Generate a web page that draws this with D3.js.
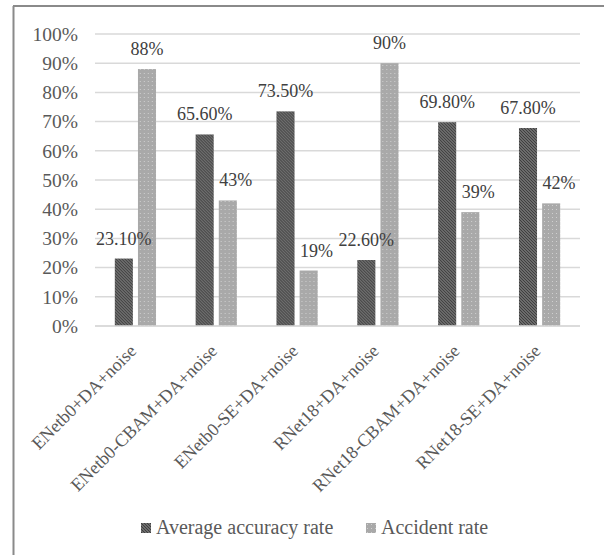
<!DOCTYPE html>
<html>
<head>
<meta charset="utf-8">
<script src="https://cdn.jsdelivr.net/npm/d3@7"></script>
<style>
  html, body { margin: 0; padding: 0; background: #fff; }
  svg { display: block; }
  text { font-family: "Liberation Serif", "Times New Roman", serif; }
</style>
</head>
<body>
<svg id="chart" width="604" height="555"></svg>
<script>
// Model variants compared
const categories = [
  "ENetb0+DA+noise",
  "ENetb0-CBAM+DA+noise",
  "ENetb0-SE+DA+noise",
  "RNet18+DA+noise",
  "RNet18-CBAM+DA+noise",
  "RNet18-SE+DA+noise"
];
const seriesNames = ["Average accuracy rate", "Accident rate"];
const accuracyValues = [0.231, 0.656, 0.735, 0.226, 0.698, 0.678];
const accidentValues = [0.88, 0.43, 0.19, 0.90, 0.39, 0.42];
const accuracyLabels = ["23.10%", "65.60%", "73.50%", "22.60%", "69.80%", "67.80%"];
const accidentLabels = ["88%", "43%", "19%", "90%", "39%", "42%"];
const yTicks = [0, 0.1, 0.2, 0.3, 0.4, 0.5, 0.6, 0.7, 0.8, 0.9, 1.0];

const rows = categories.map((c, i) => ({
  cat: c,
  vals: [
    { s: seriesNames[0], v: accuracyValues[i], label: accuracyLabels[i], other: accidentValues[i] },
    { s: seriesNames[1], v: accidentValues[i], label: accidentLabels[i], other: accuracyValues[i] }
  ]
}));

const svg = d3.select("#chart");
const textColor = "#595959";
const serif = "Liberation Serif, Times New Roman, serif";

// Fill patterns: dark cross-hatch and dotted light grey
const defs = svg.append("defs");
const pDark = defs.append("pattern").attr("id", "patDark")
  .attr("patternUnits", "userSpaceOnUse").attr("width", 3).attr("height", 3);
pDark.append("rect").attr("width", 3).attr("height", 3).attr("fill", "#808080");
pDark.append("path").attr("d", "M0,0 L3,3 M-1,2 L1,4 M2,-1 L4,1")
  .attr("stroke", "#3a3a3a").attr("stroke-width", 1.1);
const pLight = defs.append("pattern").attr("id", "patLight")
  .attr("patternUnits", "userSpaceOnUse").attr("width", 4).attr("height", 4);
pLight.append("rect").attr("width", 4).attr("height", 4).attr("fill", "#a9a9a9");
pLight.append("rect").attr("x", 1).attr("y", 1).attr("width", 1).attr("height", 1).attr("fill", "#d0d0d0");
const fills = { [seriesNames[0]]: "url(#patDark)", [seriesNames[1]]: "url(#patLight)" };

// Outer frame
svg.append("line").attr("x1", 13.5).attr("y1", 6).attr("x2", 13.5).attr("y2", 555)
  .attr("stroke", "#8a8a8a").attr("stroke-width", 2);
svg.append("line").attr("x1", 13).attr("y1", 6).attr("x2", 604).attr("y2", 6)
  .attr("stroke", "#8a8a8a").attr("stroke-width", 2);

const x0 = d3.scaleBand().domain(categories).range([95, 580]).paddingInner(0.49).paddingOuter(0.245);
const x1 = d3.scaleBand().domain(seriesNames).range([0, x0.bandwidth()]).paddingInner(0.22);
const y = d3.scaleLinear().domain([0, 1]).range([326, 34]);

// Gridlines
svg.append("g").selectAll("line").data(yTicks).join("line")
  .attr("x1", 95).attr("x2", 580)
  .attr("y1", d => y(d)).attr("y2", d => y(d))
  .attr("stroke", "#d9d9d9").attr("stroke-width", 1.5);

// Y axis labels
const yAxis = d3.axisLeft(y).tickValues(yTicks).tickFormat(d3.format(".0%")).tickSize(0).tickPadding(0);
const gy = svg.append("g").attr("transform", "translate(78,0)").call(yAxis);
gy.select(".domain").remove();
gy.selectAll("text").attr("font-size", 19.5).attr("fill", textColor).attr("font-family", serif);

// Bars
const groups = svg.append("g").selectAll("g").data(rows).join("g")
  .attr("transform", d => `translate(${x0(d.cat)},0)`);
groups.selectAll("rect").data(d => d.vals).join("rect")
  .attr("x", d => x1(d.s)).attr("width", x1.bandwidth())
  .attr("y", d => y(d.v)).attr("height", d => y(0) - y(d.v))
  .attr("fill", d => fills[d.s]);

// Value labels above each bar; a right-hand label is nudged clear of a taller left neighbour
const labels = groups.selectAll("text").data(d => d.vals).join("text")
  .attr("y", d => y(d.v) - 14)
  .attr("text-anchor", "start")
  .attr("font-size", 18).attr("fill", "#404040")
  .text(d => d.label);
labels.each(function (d) {
  const w = this.getComputedTextLength();
  const cx = x1(d.s) + x1.bandwidth() / 2;
  let left = cx - w / 2;
  if (d.s === seriesNames[1] && d.other > d.v) {
    left = Math.max(left, x1(seriesNames[0]) + x1.bandwidth() + 5.5);
  }
  d3.select(this).attr("x", left);
});

// Baseline
svg.append("line").attr("x1", 95).attr("x2", 580).attr("y1", y(0)).attr("y2", y(0))
  .attr("stroke", "#d9d9d9").attr("stroke-width", 1.5);

// Category labels, rotated
const xAxis = d3.axisBottom(x0).tickSize(0).tickPadding(0);
const gx = svg.append("g").attr("transform", `translate(0,${y(0)})`).call(xAxis);
gx.select(".domain").remove();
gx.selectAll("text")
  .attr("font-size", 18).attr("fill", textColor).attr("font-family", serif)
  .attr("text-anchor", "end")
  .attr("dy", null).attr("y", 0)
  .attr("transform", "translate(2,26) rotate(-45)");

// Legend
const legendX = [141, 366];
const lg = svg.append("g").selectAll("g").data(seriesNames).join("g")
  .attr("transform", (d, i) => `translate(${legendX[i]},523)`);
lg.append("rect").attr("width", 10).attr("height", 10).attr("fill", d => fills[d]);
lg.append("text").attr("x", 15).attr("y", 10.5).attr("font-size", 20).attr("fill", textColor).text(d => d);
</script>
</body>
</html>
